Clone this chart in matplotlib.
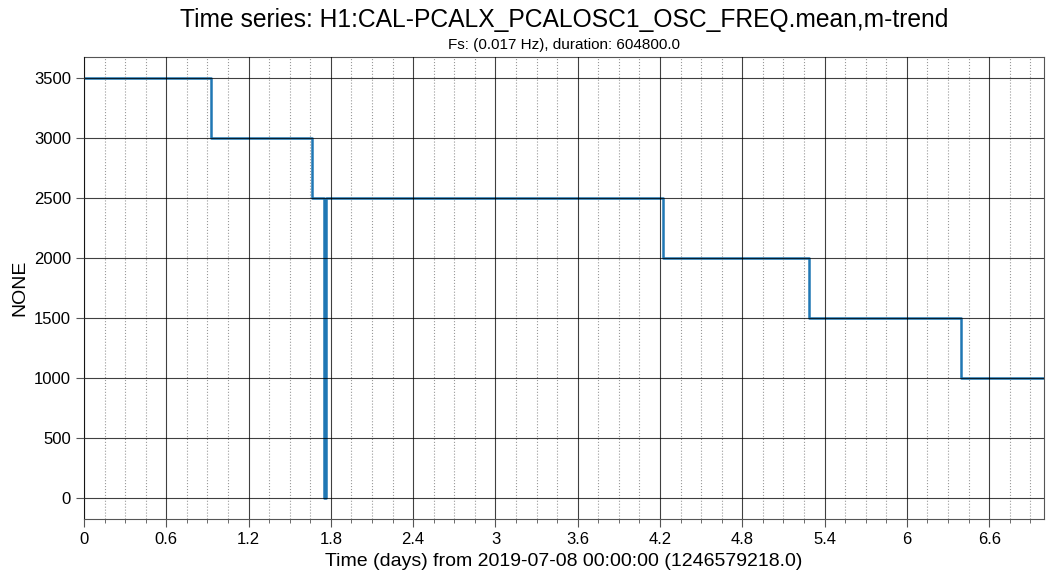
import matplotlib
matplotlib.use("Agg")
import matplotlib.pyplot as plt
from matplotlib.ticker import MultipleLocator

plt.rcParams['font.family'] = ['Liberation Sans', 'DejaVu Sans']

# step changes in the oscillator frequency (days from start, value)
t_days = [0.0, 0.926, 1.663, 1.747, 1.764, 4.222, 5.286, 6.395, 7.0]
freq = [3500, 3000, 2500, 0, 2500, 2000, 1500, 1000, 1000]

x_ticks = [0, 0.6, 1.2, 1.8, 2.4, 3.0, 3.6, 4.2, 4.8, 5.4, 6.0, 6.6]
x_tick_labels = ['0', '0.6', '1.2', '1.8', '2.4', '3', '3.6', '4.2', '4.8', '5.4', '6', '6.6']
y_ticks = [0, 500, 1000, 1500, 2000, 2500, 3000, 3500]

fig = plt.figure(figsize=(10.57, 5.81), dpi=100)
ax = fig.add_axes([0.0795, 0.1067, 0.9082, 0.7952])

ax.step(t_days, freq, where='post', color='#1f77b4', linewidth=1.8)

ax.set_xlim(0, 7)
ax.set_ylim(-175, 3675)
ax.set_xticks(x_ticks)
ax.set_xticklabels(x_tick_labels)
ax.xaxis.set_minor_locator(MultipleLocator(0.15))
ax.set_yticks(y_ticks)

ax.set_axisbelow(False)
ax.grid(True, which='major', color='black', linewidth=0.8, alpha=0.75, linestyle='-')
ax.grid(True, which='minor', axis='x', color='gray', linewidth=0.8, alpha=0.8, linestyle=':')

ax.tick_params(axis='both', which='major', labelsize=12, direction='out', length=6, color='#555555')
ax.tick_params(axis='x', which='minor', direction='out', length=3, color='#555555')
for s in ax.spines.values():
    s.set_color('#555555')

ax.set_xlabel("Time (days) from 2019-07-08 00:00:00 (1246579218.0)", fontsize=14)
ax.set_ylabel("NONE", fontsize=14)

ax.text(0.5, 1.055, "Time series: H1:CAL-PCALX_PCALOSC1_OSC_FREQ.mean,m-trend",
        transform=ax.transAxes, ha='center', va='bottom', fontsize=17.7)
ax.text(0.5, 1.01, "Fs: (0.017 Hz), duration: 604800.0",
        transform=ax.transAxes, ha='center', va='bottom', fontsize=11)

fig.savefig("out.png", dpi=100)
